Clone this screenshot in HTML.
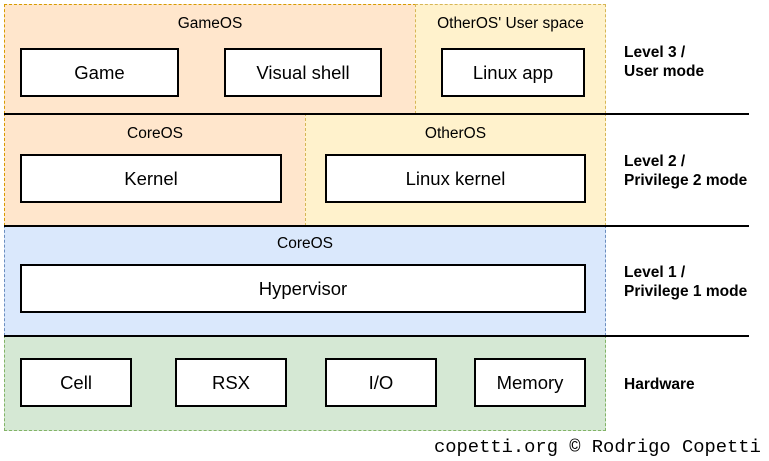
<!DOCTYPE html>
<html><head><style>
body{margin:0;width:769px;height:461px;background:#fff;position:relative;font-family:"Liberation Sans",Arial,sans-serif;overflow:hidden}
.r{position:absolute;box-sizing:border-box}
.d{border:1px dashed}
.b{background:#fff;border:2px solid #000;display:flex;align-items:center;justify-content:center;font-size:18.5px;color:#000}
.t{position:absolute;font-size:15.5px;text-align:center;color:#000}
.h{position:absolute;left:4px;width:745px;height:1.5px;background:#000}
.l{position:absolute;left:624px;font-size:15.5px;font-weight:bold;line-height:19px;white-space:nowrap}
</style></head><body>
<div class="r d" style="left:4px;top:4px;width:412px;height:110px;background:#ffe6cc;border-color:#d79b00"></div>
<div class="r d" style="left:415px;top:4px;width:191px;height:110px;background:#fff2cc;border-color:#d6b656"></div>
<div class="r d" style="left:4px;top:113px;width:302px;height:113px;background:#ffe6cc;border-color:#d79b00"></div>
<div class="r d" style="left:305px;top:113px;width:301px;height:113px;background:#fff2cc;border-color:#d6b656"></div>
<div class="r d" style="left:4px;top:225px;width:602px;height:111px;background:#dae8fc;border-color:#6c8ebf"></div>
<div class="r d" style="left:4px;top:335px;width:602px;height:96px;background:#d5e8d4;border-color:#82b366"></div>
<div class="h" style="top:113px"></div>
<div class="h" style="top:225px"></div>
<div class="h" style="top:335px"></div>
<div class="t" style="left:4px;width:412px;top:15px">GameOS</div>
<div class="t" style="left:415px;width:191px;top:15px">OtherOS' User space</div>
<div class="t" style="left:4px;width:302px;top:125px">CoreOS</div>
<div class="t" style="left:305px;width:301px;top:125px">OtherOS</div>
<div class="t" style="left:4px;width:602px;top:235px">CoreOS</div>
<div class="r b" style="left:20px;top:48px;width:159px;height:49px">Game</div>
<div class="r b" style="left:224px;top:48px;width:158px;height:49px">Visual shell</div>
<div class="r b" style="left:441px;top:48px;width:144px;height:49px">Linux app</div>
<div class="r b" style="left:20px;top:154px;width:262px;height:49px">Kernel</div>
<div class="r b" style="left:325px;top:154px;width:261px;height:49px">Linux kernel</div>
<div class="r b" style="left:20px;top:264px;width:566px;height:49px">Hypervisor</div>
<div class="r b" style="left:20px;top:358px;width:112px;height:49px">Cell</div>
<div class="r b" style="left:175px;top:358px;width:112px;height:49px">RSX</div>
<div class="r b" style="left:325px;top:358px;width:112px;height:49px">I/O</div>
<div class="r b" style="left:474px;top:358px;width:112px;height:49px">Memory</div>
<div class="l" style="top:43px">Level 3 /<br>User mode</div>
<div class="l" style="top:152px">Level 2 /<br>Privilege 2 mode</div>
<div class="l" style="top:263px">Level 1 /<br>Privilege 1 mode</div>
<div class="l" style="top:375px">Hardware</div>
<div style="position:absolute;left:434px;top:436px;font-family:'Liberation Mono',monospace;font-size:18.8px;white-space:nowrap">copetti.org © Rodrigo Copetti</div>
</body></html>
